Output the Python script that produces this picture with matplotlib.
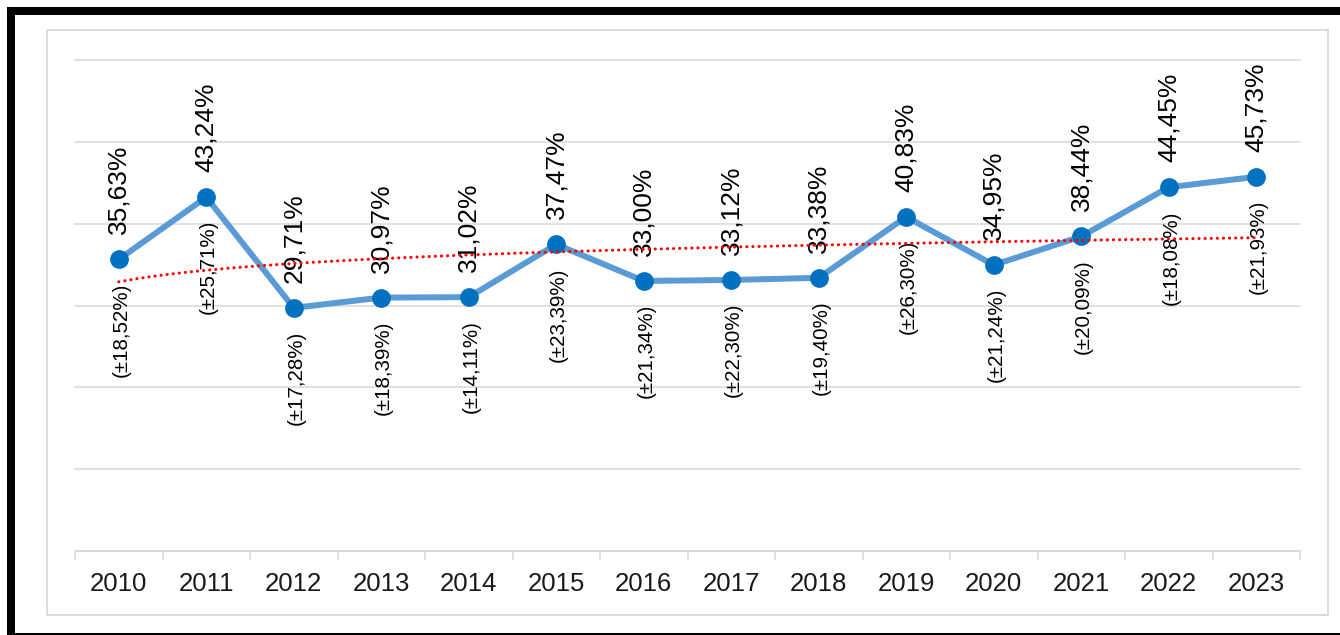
import numpy as np
import matplotlib
matplotlib.use("Agg")
import matplotlib.pyplot as plt
from matplotlib.patches import Rectangle

# Data
years = ["2010", "2011", "2012", "2013", "2014", "2015", "2016",
         "2017", "2018", "2019", "2020", "2021", "2022", "2023"]
values = [35.63, 43.24, 29.71, 30.97, 31.02, 37.47, 33.00,
          33.12, 33.38, 40.83, 34.95, 38.44, 44.45, 45.73]
margins = [18.52, 25.71, 17.28, 18.39, 14.11, 23.39, 21.34,
           22.30, 19.40, 26.30, 21.24, 20.09, 18.08, 21.93]

plt.rcParams['font.family'] = ['Liberation Sans', 'DejaVu Sans']

W, H = 1340, 635
fig = plt.figure(figsize=(W / 100, H / 100), dpi=100)
fig.patch.set_facecolor("white")


def px_rect(x0, y0, x1, y1, **kw):
    return Rectangle((x0 / W, 1 - y1 / H), (x1 - x0) / W, (y1 - y0) / H,
                     transform=fig.transFigure, **kw)


# Outer black frame (top, left, bottom)
fig.add_artist(px_rect(7, 7, W, 15, color="black", lw=0))
fig.add_artist(px_rect(7, 7, 15, H, color="black", lw=0))
fig.add_artist(px_rect(7, 633, W, H, color="black", lw=0))
# Light chart-area border
fig.add_artist(px_rect(47, 30, 1328, 615, fill=False, edgecolor="#d9d9d9", lw=1.3))

ax = fig.add_axes([75 / W, 1 - 551 / H, 1225 / W, 491 / H])
x = np.arange(len(years))

# Axes styling
ax.set_xlim(-0.5, len(years) - 0.5)
ax.set_ylim(0, 60)
ax.set_yticks(np.arange(0, 61, 10))
ax.tick_params(axis="y", length=0, labelleft=False)
ax.grid(axis="y", color="#d9d9d9", lw=1.1)
for gl in ax.get_ygridlines():
    gl.set_clip_on(False)
ax.set_axisbelow(True)
for s in ("top", "left", "right"):
    ax.spines[s].set_visible(False)
ax.spines["bottom"].set_color("#d9d9d9")
ax.spines["bottom"].set_linewidth(1.1)

ax.set_xticks(x)
ax.set_xticklabels(years, fontsize=18.5, color="#1a1a1a")
ax.tick_params(axis="x", which="major", length=0, pad=15)
ax.set_xticks(np.arange(-0.5, len(years), 1.0), minor=True)
ax.tick_params(axis="x", which="minor", length=6.5, width=1.1, color="#d9d9d9",
               direction="out")

# Main series
ax.plot(x, values, color="#5B9BD5", lw=4.3, zorder=3, solid_capstyle="round")
ax.plot(x, values, ls="none", marker="o", ms=13.5, color="#0070C0",
        markeredgewidth=0, zorder=4)

# Logarithmic trend line
lx = np.log(x + 1)
b, a = np.polyfit(lx, values, 1)
xt = np.linspace(0, len(years) - 1, 200)
yt = a + b * np.log(xt + 1)
ax.plot(xt, yt, color="#FF0000", lw=2.2, ls=(0, (0.05, 1.95)),
        dash_capstyle="round", zorder=6)

# Data labels
for xi, v, m in zip(x, values, margins):
    ax.annotate(f"{v:.2f}%".replace(".", ","), (xi, v), xytext=(0, 18),
                textcoords="offset points", rotation=90, ha="center",
                va="bottom", fontsize=19, color="black", zorder=5)
    ax.annotate(f"(±{m:.2f}%)".replace(".", ","), (xi, v), xytext=(1.5, -16.5),
                textcoords="offset points", rotation=90, ha="center",
                va="top", fontsize=14.8, color="black", zorder=5)

fig.savefig("out.png", dpi=100)
